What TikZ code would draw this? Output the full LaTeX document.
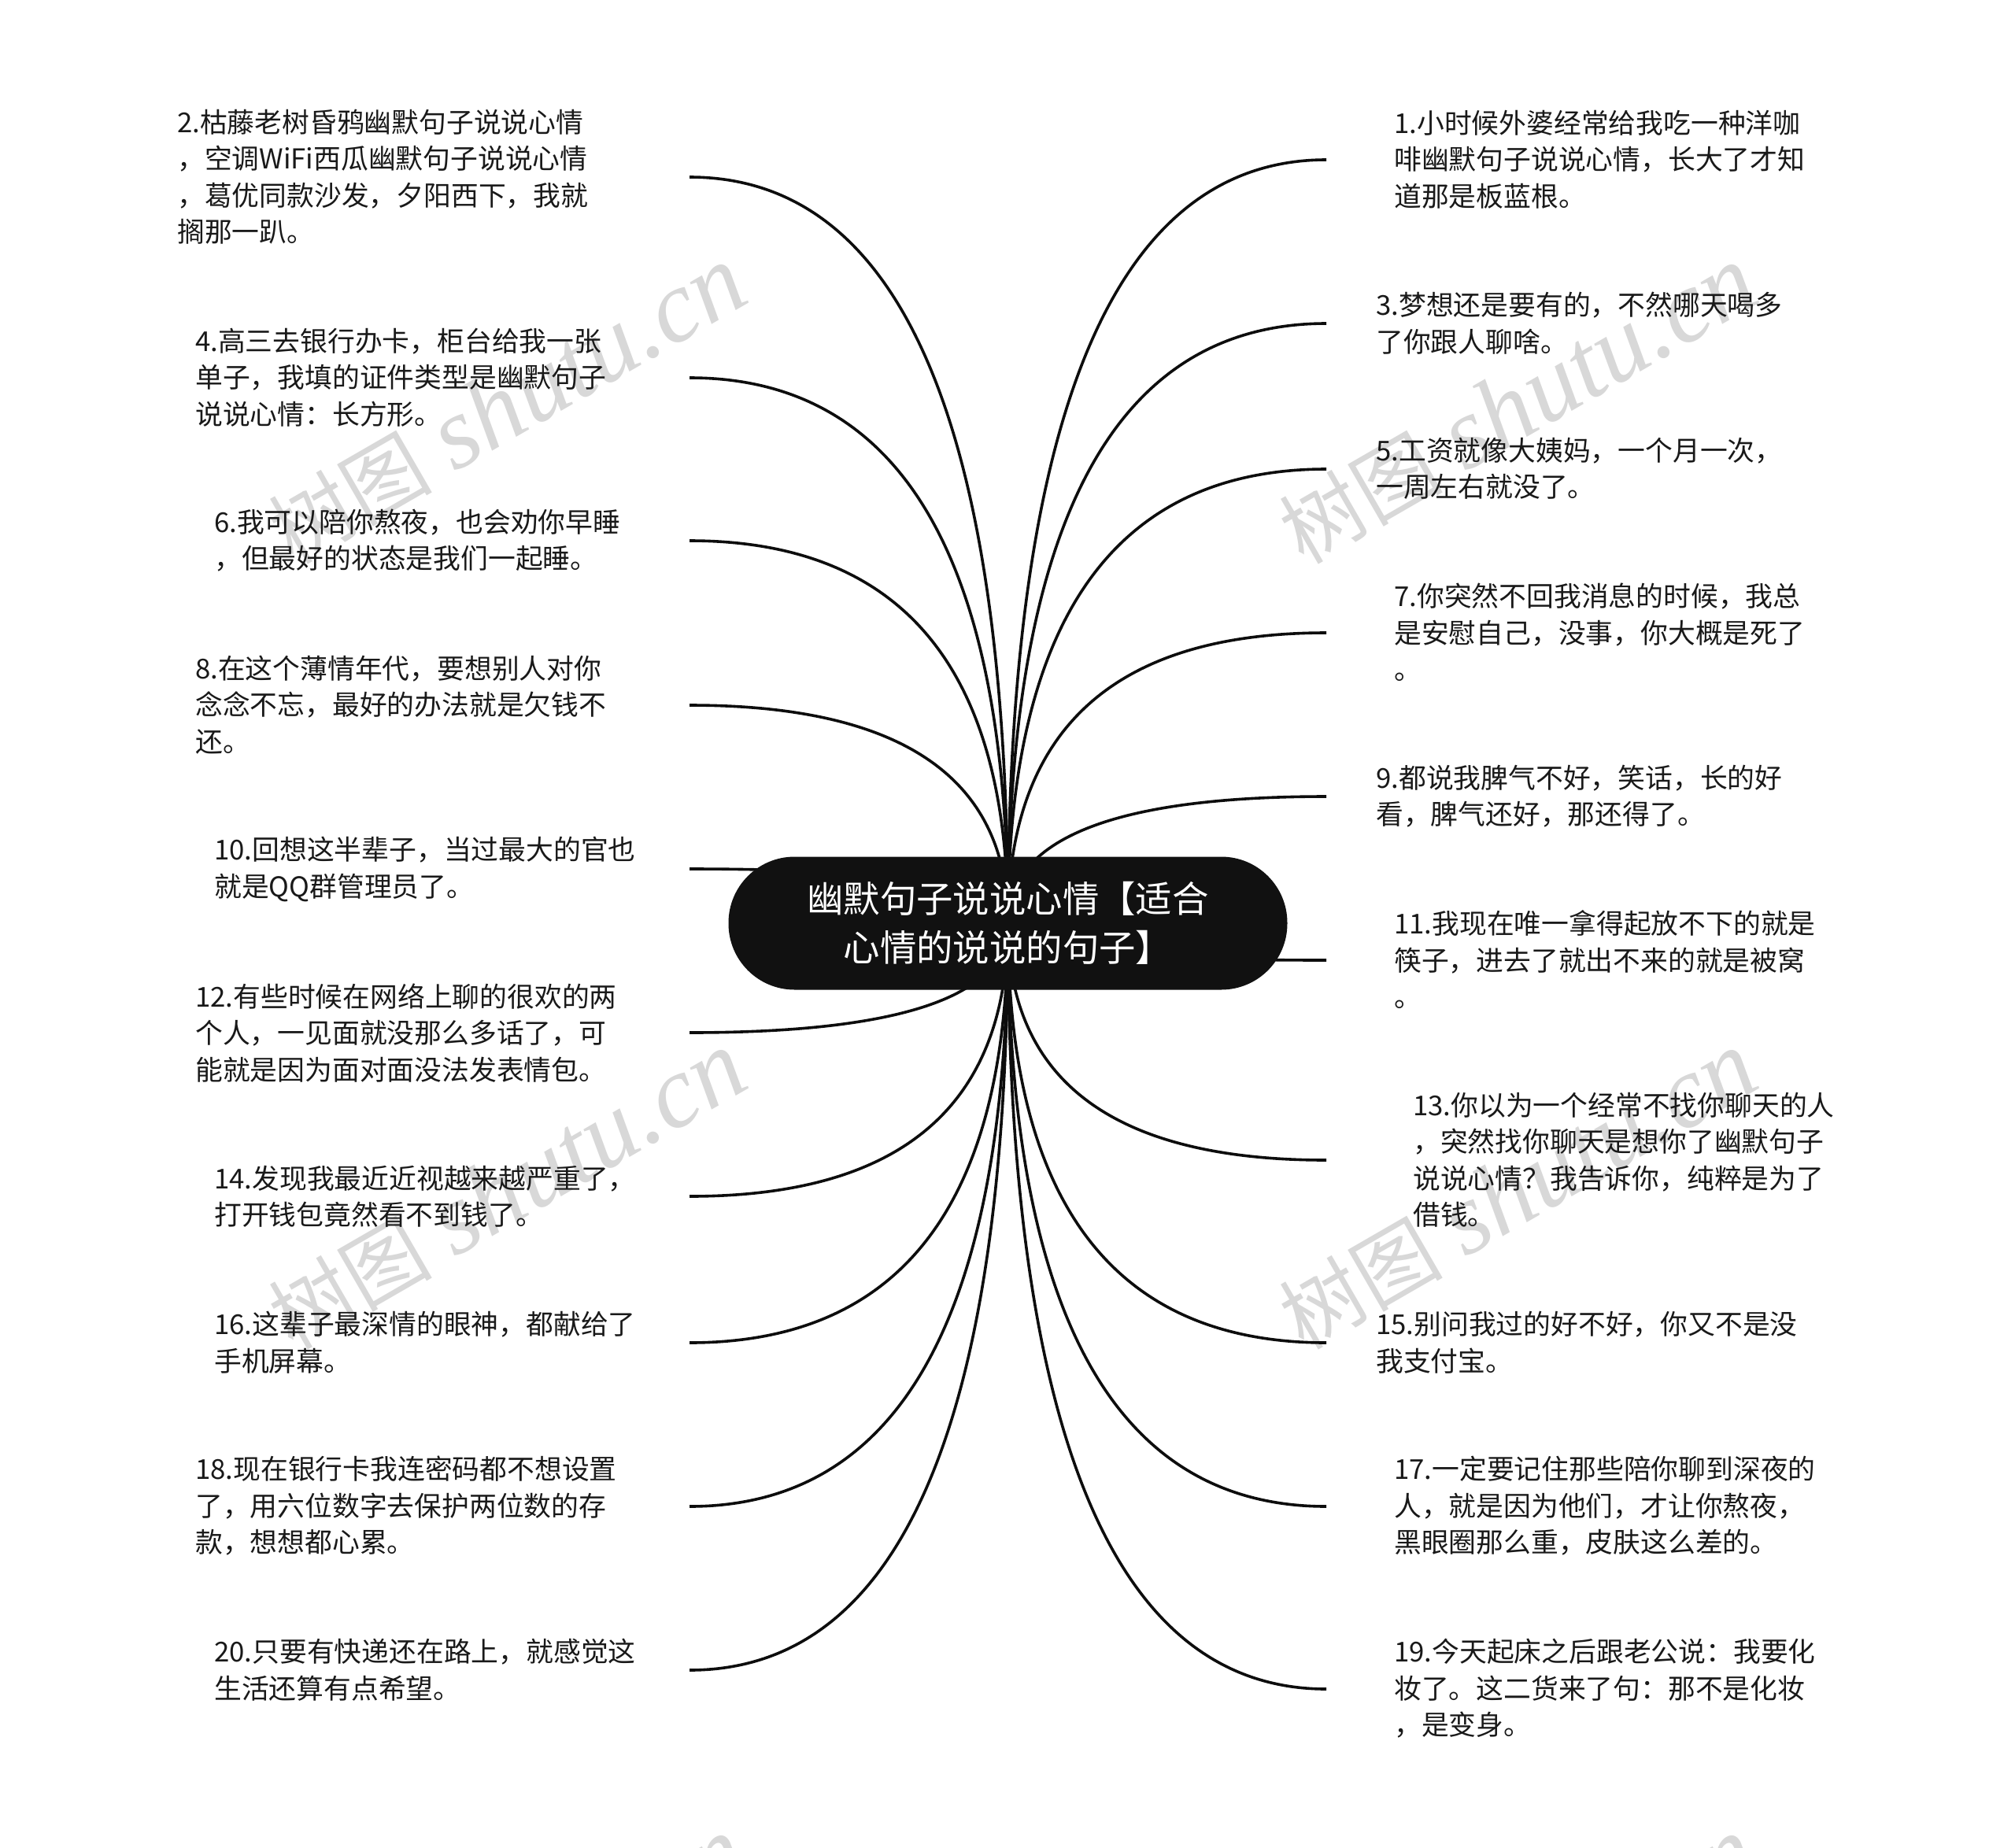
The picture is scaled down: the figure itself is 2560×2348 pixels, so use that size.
\documentclass[tikz,border=0pt]{standalone}
\usepackage{fontspec}
\setmainfont{Noto Sans CJK SC}
\newfontfamily\wmfont{Liberation Serif}
\usetikzlibrary{calc,backgrounds}

\definecolor{rootblack}{HTML}{111111}
\definecolor{wmgray}{HTML}{D8D8D8}
\newcommand{\wmtext}{{\fontsize{104}{104}\selectfont 树图} {\wmfont\itshape shutu.cn}}
\tikzset{
    leaf/.style={anchor=west,align=left,inner sep=0pt,text=black!90,yshift=0.5pt,
        font=\fontsize{34.8}{46.5}\selectfont},
    rootnode/.style={draw=none,fill=rootblack,rounded corners=84pt,
        minimum width=710pt,minimum height=169pt,inner sep=0pt,align=center,
        text=white,font=\fontsize{46.4}{62}\selectfont},
    wmark/.style={rotate=30,text=wmgray,inner sep=0pt,
        font=\fontsize{130}{130}\selectfont},
    branch/.style={line width=3.6pt,black!95},
}
\newcommand{\branchline}[1]{
    \draw[branch] (root.center) .. controls ($(root.center)!0.667!(root.center |- e#1)$)
        and ($(e#1)!0.667!(root.center |- e#1)$) .. (e#1);
}

\begin{document}
\begin{tikzpicture}[x=1pt,y=-1pt]
    \useasboundingbox (0,0) rectangle (2560,2348);

    \node[rootnode] (root) at (1280.5,1173) {幽默句子说说心情【适合\\心情的说说的句子】};

    % left side
    \coordinate (e2) at (876,225);
    \coordinate (e4) at (876,480);
    \coordinate (e6) at (876,687);
    \coordinate (e8) at (876,896);
    \coordinate (e10) at (876,1104);
    \coordinate (e12) at (876,1312);
    \coordinate (e14) at (876,1520);
    \coordinate (e16) at (876,1706);
    \coordinate (e18) at (876,1914);
    \coordinate (e20) at (876,2122);
    % right side
    \coordinate (e1) at (1685,203);
    \coordinate (e3) at (1685,411);
    \coordinate (e5) at (1685,596);
    \coordinate (e7) at (1685,804);
    \coordinate (e9) at (1685,1012);
    \coordinate (e11) at (1685,1220);
    \coordinate (e13) at (1685,1474);
    \coordinate (e15) at (1685,1706);
    \coordinate (e17) at (1685,1914);
    \coordinate (e19) at (1685,2146);

    \begin{scope}[on background layer]
        \node[wmark] (wm1) at (644,515) {\wmtext};
        \node[wmark] (wm2) at (1928,515) {\wmtext};
        \node[wmark] (wm3) at (644,1513) {\wmtext};
        \node[wmark] (wm4) at (1928,1513) {\wmtext};
        \node[wmark] (wm5) at (644,2511) {\wmtext};
        \node[wmark] (wm6) at (1928,2511) {\wmtext};
        \foreach \i in {1,...,20} {\branchline{\i}}
    \end{scope}

    \node[leaf] (t2) at (225,225) {2.枯藤老树昏鸦幽默句子说说心情\\，空调WiFi西瓜幽默句子说说心情\\，葛优同款沙发，夕阳西下，我就\\搁那一趴。};
    \node[leaf] (t4) at (248,480) {4.高三去银行办卡，柜台给我一张\\单子，我填的证件类型是幽默句子\\说说心情：长方形。};
    \node[leaf] (t6) at (272,687) {6.我可以陪你熬夜，也会劝你早睡\\，但最好的状态是我们一起睡。};
    \node[leaf] (t8) at (248,896) {8.在这个薄情年代，要想别人对你\\念念不忘，最好的办法就是欠钱不\\还。};
    \node[leaf] (t10) at (272,1105) {10.回想这半辈子，当过最大的官也\\就是QQ群管理员了。};
    \node[leaf] (t12) at (248,1313) {12.有些时候在网络上聊的很欢的两\\个人，一见面就没那么多话了，可\\能就是因为面对面没法发表情包。};
    \node[leaf] (t14) at (272,1521) {14.发现我最近近视越来越严重了，\\打开钱包竟然看不到钱了。};
    \node[leaf] (t16) at (272,1706) {16.这辈子最深情的眼神，都献给了\\手机屏幕。};
    \node[leaf] (t18) at (248,1914) {18.现在银行卡我连密码都不想设置\\了，用六位数字去保护两位数的存\\款，想想都心累。};
    \node[leaf] (t20) at (272,2122) {20.只要有快递还在路上，就感觉这\\生活还算有点希望。};

    \node[leaf] (t1) at (1771,203) {1.小时候外婆经常给我吃一种洋咖\\啡幽默句子说说心情，长大了才知\\道那是板蓝根。};
    \node[leaf] (t3) at (1748,411) {3.梦想还是要有的，不然哪天喝多\\了你跟人聊啥。};
    \node[leaf] (t5) at (1748,596) {5.工资就像大姨妈，一个月一次，\\一周左右就没了。};
    \node[leaf] (t7) at (1771,804) {7.你突然不回我消息的时候，我总\\是安慰自己，没事，你大概是死了\\。};
    \node[leaf] (t9) at (1748,1012) {9.都说我脾气不好，笑话，长的好\\看，脾气还好，那还得了。};
    \node[leaf] (t11) at (1771,1220) {11.我现在唯一拿得起放不下的就是\\筷子，进去了就出不来的就是被窝\\。};
    \node[leaf] (t13) at (1795,1474) {13.你以为一个经常不找你聊天的人\\，突然找你聊天是想你了幽默句子\\说说心情？我告诉你，纯粹是为了\\借钱。};
    \node[leaf] (t15) at (1748,1706) {15.别问我过的好不好，你又不是没\\我支付宝。};
    \node[leaf] (t17) at (1771,1914) {17.一定要记住那些陪你聊到深夜的\\人，就是因为他们，才让你熬夜，\\黑眼圈那么重，皮肤这么差的。};
    \node[leaf] (t19) at (1771,2146) {19.今天起床之后跟老公说：我要化\\妆了。这二货来了句：那不是化妆\\，是变身。};
\end{tikzpicture}
\end{document}
